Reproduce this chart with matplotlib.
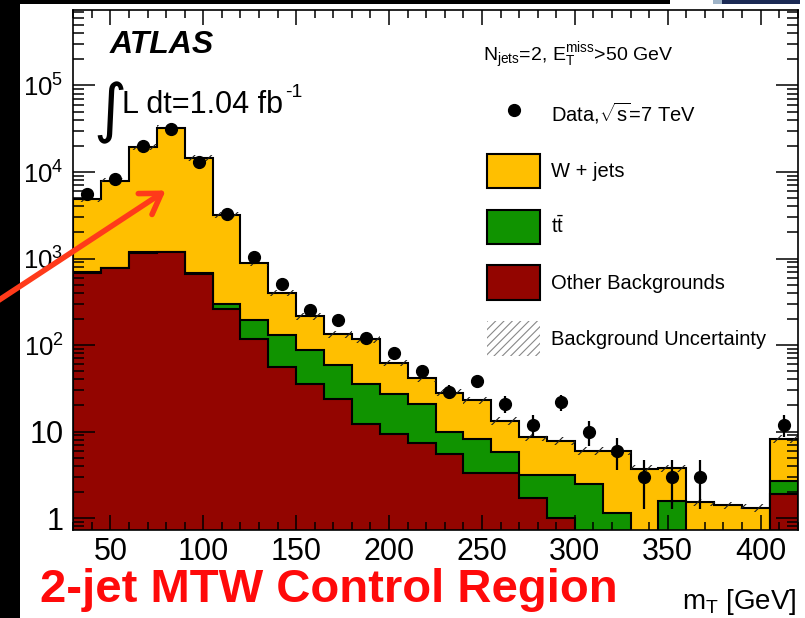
"""2-jet MTW control region: m_T distribution, stacked backgrounds vs data."""
import numpy as np
import matplotlib
matplotlib.use("Agg")
import matplotlib.pyplot as plt
from matplotlib.patches import Patch, Rectangle, FancyArrowPatch
from matplotlib.lines import Line2D
from matplotlib.ticker import FixedLocator, FixedFormatter, MultipleLocator, LogLocator, NullFormatter

plt.rcParams['font.family'] = ['Liberation Sans', 'DejaVu Sans']
plt.rcParams['mathtext.fontset'] = 'custom'
plt.rcParams['mathtext.rm'] = 'Liberation Sans'
plt.rcParams['mathtext.it'] = 'Liberation Sans:italic'
plt.rcParams['mathtext.bf'] = 'Liberation Sans:bold'
plt.rcParams['mathtext.default'] = 'regular'
plt.rcParams['hatch.linewidth'] = 0.8

# m_T bins in GeV (15 GeV wide, last one is the overflow bin)
bin_edges = [30, 45, 60, 75, 90, 105, 120, 135, 150, 165, 180, 195, 210, 225,
             240, 255, 270, 285, 300, 315, 330, 345, 360, 375, 390, 405, 420]

data_counts = [5520, 8300, 20000, 31200, 13060, 3240, 1050, 504, 253, 194, 119, 81, 50,
               29, 38, 21, 12, 22, 10, 6, 3, 3, 3, 0, 0, 12]
other_bkg = [685, 771, 1166, 1180, 656, 261, 117, 55, 35.4, 23.6, 12.2, 9.35, 7.3,
             5.5, 3.3, 3.3, 1.69, 1.0, 0, 0, 0, 0, 0, 0, 0, 1.88]
ttbar = [8, 12, 20, 25, 25, 37, 78, 76, 53, 35, 23, 18, 13.5,
         4.5, 4.9, 2.5, 1.45, 2.14, 2.45, 1.15, 0, 1.57, 0, 0, 0, 0.8]
wjets = [4137, 7157, 18414, 31295, 13719, 2882, 699, 272, 128, 75, 81, 35, 20.4,
         18.2, 14.9, 7.5, 5.4, 4.7, 3.5, 4.8, 3.7, 2.2, 1.52, 1.41, 1.32, 5.6]
# relative background uncertainty per bin
bkg_unc = [0.08, 0.08, 0.08, 0.08, 0.08, 0.08, 0.08, 0.08, 0.09, 0.09, 0.09, 0.09, 0.09,
           0.09, 0.09, 0.1, 0.1, 0.1, 0.1, 0.1, 0.1, 0.1, 0.1, 0.1, 0.1, 0.1]

y_ticks = [1, 10, 100, 1e3, 1e4, 1e5]
y_tick_labels = ['1', '10', r'$10^{2}$', r'$10^{3}$', r'$10^{4}$', r'$10^{5}$']

YELLOW = '#FFBF00'
GREEN = '#109300'
DARKRED = '#930500'

W, H = 805, 618


def fx(x):
    return x / W


def fy(y):
    return 1 - y / H


fig = plt.figure(figsize=(W / 100, H / 100), dpi=100)
ax = fig.add_axes([fx(73.3), fy(530), (797.7 - 73.3) / W, (530 - 10) / H])

edges = np.array(bin_edges, dtype=float)
centers = 0.5 * (edges[:-1] + edges[1:])
floor = 1e-2
red_top = np.array(other_bkg, dtype=float)
green_top = red_top + np.array(ttbar)
total = green_top + np.array(wjets)
unc = np.array(bkg_unc)

ax.stairs(total, edges, baseline=floor, fill=True, facecolor=YELLOW,
          edgecolor='black', linewidth=1.5, zorder=1)
ax.stairs(np.maximum(green_top, floor), edges, baseline=floor, fill=True,
          facecolor=GREEN, edgecolor='black', linewidth=1.5, zorder=1.1)
ax.stairs(np.maximum(red_top, floor), edges, baseline=floor, fill=True,
          facecolor=DARKRED, edgecolor='black', linewidth=1.5, zorder=1.2)
ax.stairs(total * (1 + unc), edges, baseline=total * (1 - unc), fill=True,
          facecolor='none', edgecolor='#222222', hatch='//', linewidth=0, zorder=2)

data = np.array(data_counts, dtype=float)
mask = data > 0
ax.errorbar(centers[mask], data[mask], yerr=np.sqrt(data[mask]), fmt='o', color='black',
            markersize=8.5, elinewidth=1.6, capsize=0, zorder=3)

ax.set_yscale('log')
ax.set_xlim(30, 420)
ax.set_ylim(0.727, 7.46e5)

ax.xaxis.set_major_locator(MultipleLocator(50))
ax.xaxis.set_minor_locator(MultipleLocator(10))
ax.yaxis.set_major_locator(FixedLocator(y_ticks))
ax.yaxis.set_major_formatter(FixedFormatter(y_tick_labels))
ax.yaxis.set_minor_locator(LogLocator(base=10, subs=range(2, 10), numticks=20))
ax.yaxis.set_minor_formatter(NullFormatter())

ax.tick_params(which='both', direction='in', top=True, right=True, width=1.1, labelsize=22)
ax.tick_params(axis='x', which='major', length=11, pad=5)
ax.tick_params(axis='x', which='minor', length=5.5)
ax.tick_params(axis='y', which='major', length=15.5, pad=7)
ax.tick_params(axis='y', which='minor', length=8)
for i, tick in enumerate(ax.yaxis.get_major_ticks()):
    if i >= 2:
        tick.label1.set_fontsize(18.5)
for sp in ax.spines.values():
    sp.set_linewidth(1.2)

# labels inside the frame
fig.text(fx(110), fy(53), 'ATLAS', fontsize=23, fontweight='bold', fontstyle='italic')
fig.text(fx(93), fy(130), '\u222b', fontsize=46, family='DejaVu Sans')
fig.text(fx(122), fy(113), 'L dt=1.04 fb', fontsize=22)
fig.text(fx(285), fy(97), '-1', fontsize=14)
fig.text(fx(483), fy(61), r'N$_{jets}$=2, E$_{T}^{miss}$>50 GeV', fontsize=14)

handles = [
    Line2D([], [], marker='o', color='black', linestyle='none', markersize=8.5),
    Patch(facecolor=YELLOW, edgecolor='black', linewidth=1.5),
    Patch(facecolor=GREEN, edgecolor='black', linewidth=1.5),
    Patch(facecolor=DARKRED, edgecolor='black', linewidth=1.5),
    Patch(facecolor='white', edgecolor='#888888', hatch='////', linewidth=0),
]
labels = [r'Data,$\sqrt{s}$=7 TeV', 'W + jets', r'$t\bar{t}$', 'Other Backgrounds',
          'Background Uncertainty']
ax.legend(handles, labels, loc='upper left', bbox_to_anchor=(fx(487), fy(98)),
          bbox_transform=fig.transFigure, frameon=False, fontsize=14.5, borderpad=0,
          borderaxespad=0, handlelength=2.64, handleheight=2.27, labelspacing=1.05,
          handletextpad=0.55)

# axis title and slide annotation
fig.text(fx(797), fy(609), r'm$_{T}$ [GeV]', fontsize=20, ha='right')
fig.text(fx(40), fy(602), '2-jet MTW Control Region', fontsize=34, fontweight='bold',
         color='#FF0A0A')

# slide frame pieces around the plot
fig.add_artist(Rectangle((0, 0), fx(20), 1, transform=fig.transFigure,
                         facecolor='black', edgecolor='none', zorder=5))
fig.add_artist(Rectangle((0, fy(4)), fx(670), 4 / H, transform=fig.transFigure,
                         facecolor='black', edgecolor='none', zorder=5))
fig.add_artist(Rectangle((fx(713), fy(4)), fx(9), 4 / H, transform=fig.transFigure,
                         facecolor='#9fb4c8', edgecolor='none', zorder=5))
fig.add_artist(Rectangle((fx(722), fy(4)), fx(78), 4 / H, transform=fig.transFigure,
                         facecolor='#1b2a55', edgecolor='none', zorder=5))

arrow = FancyArrowPatch((fx(-10), fy(306)), (fx(168), fy(189)), transform=fig.transFigure,
                        arrowstyle='->,head_length=0.7,head_width=0.45', mutation_scale=20,
                        color='#FF3A1A', linewidth=4, zorder=6)
fig.add_artist(arrow)

fig.savefig('out.png', dpi=100)
